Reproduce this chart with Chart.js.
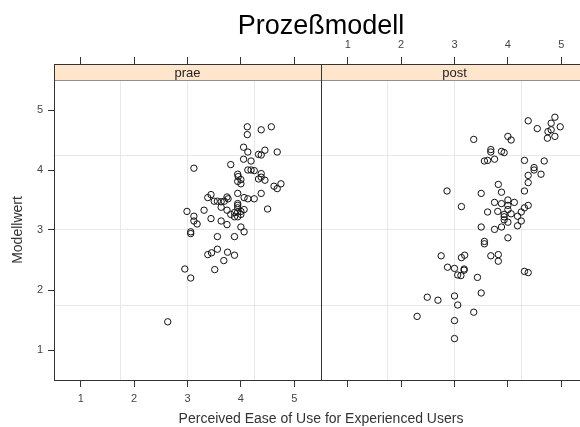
<!DOCTYPE html>
<html>
<head>
<meta charset="utf-8">
<title>Prozeßmodell</title>
<script src="https://cdn.jsdelivr.net/npm/chart.js@4.4.1/dist/chart.umd.min.js"></script>
<style>
  html, body { margin: 0; padding: 0; background: #fff; overflow: hidden; }
  #wrap { position: relative; width: 580px; height: 427px; overflow: hidden; }
  #wrap canvas { position: absolute; left: 0; top: 0; }
</style>
</head>
<body>
<div id="wrap">
  <canvas id="praeChart" width="580" height="427"></canvas>
  <canvas id="postChart" width="600" height="427"></canvas>
</div>
<script>
// Prozeßmodell - two lattice-style panels (prae / post)

const chartTitle = 'Prozeßmodell';
const xTitle = 'Perceived Ease of Use for Experienced Users';
const yTitle = 'Modellwert';
const panelNames = ['prae', 'post'];
const tickValues = [1, 2, 3, 4, 5];
const refLines = [1.75, 3, 4.25];

const praeX = [4.12, 4.12, 4.38, 4.57, 4.05, 4.13, 4.33, 4.38, 4.45, 4.68,
               4.05, 4.19, 3.12, 3.81, 4.13, 4.19, 4.25, 4.38, 3.94, 3.95,
               4.00, 3.94, 4.00, 4.33, 4.38, 4.45, 4.62, 4.68, 4.75, 3.94,
               4.38, 3.44, 3.38, 3.50, 3.56, 3.63, 3.69, 3.74, 3.76, 4.06,
               4.13, 4.25, 3.94, 3.94, 3.94, 3.63, 3.31, 2.99, 3.74, 3.88,
               3.94, 4.06, 4.00, 4.50, 3.81, 3.88, 3.12, 3.44, 3.63, 3.94,
               4.00, 3.12, 3.18, 3.74, 4.00, 4.06, 3.06, 3.06, 3.56, 3.88,
               3.56, 3.38, 3.45, 3.75, 3.88, 3.68, 2.95, 3.51, 3.06, 2.63];
const praeY = [4.72, 4.59, 4.67, 4.72, 4.38, 4.30, 4.26, 4.25, 4.33, 4.30,
               4.18, 4.15, 4.03, 4.09, 4.00, 4.00, 3.99, 3.94, 3.93, 3.89,
               3.84, 3.81, 3.77, 3.85, 3.88, 3.83, 3.73, 3.69, 3.77, 3.61,
               3.61, 3.59, 3.54, 3.48, 3.48, 3.47, 3.48, 3.55, 3.52, 3.54,
               3.52, 3.52, 3.44, 3.41, 3.37, 3.38, 3.33, 3.31, 3.33, 3.29,
               3.30, 3.34, 3.31, 3.35, 3.26, 3.22, 3.23, 3.19, 3.15, 3.22,
               3.26, 3.15, 3.10, 3.09, 3.05, 2.97, 2.97, 2.94, 2.89, 2.89,
               2.68, 2.59, 2.62, 2.63, 2.58, 2.49, 2.35, 2.34, 2.20, 1.47];

const postX = [4.88, 4.81, 4.98, 4.38, 4.55, 4.75, 4.81, 4.74, 4.88, 3.36,
               4.00, 4.06, 3.68, 3.68, 3.88, 3.93, 3.56, 3.62, 3.75, 4.31,
               4.68, 4.49, 4.49, 4.38, 4.62, 4.38, 3.82, 2.86, 3.50, 3.88,
               4.31, 3.13, 3.75, 3.88, 4.00, 4.12, 4.00, 3.62, 3.81, 4.00,
               3.93, 3.93, 4.06, 4.25, 4.31, 4.38, 4.18, 3.93, 4.00, 4.25,
               4.18, 3.50, 3.75, 3.88, 4.00, 3.56, 3.56, 2.75, 3.13, 3.19,
               3.68, 3.82, 3.82, 2.87, 3.00, 3.18, 3.18, 3.06, 3.12, 3.43,
               4.31, 4.38, 2.49, 2.69, 3.00, 3.50, 3.06, 3.36, 2.30, 3.00,
               3.00];
const postY = [4.88, 4.78, 4.72, 4.82, 4.69, 4.64, 4.67, 4.53, 4.56, 4.51,
               4.56, 4.50, 4.34, 4.30, 4.31, 4.29, 4.15, 4.16, 4.18, 4.16,
               4.15, 4.04, 4.00, 3.91, 3.93, 3.79, 3.76, 3.65, 3.61, 3.63,
               3.65, 3.39, 3.46, 3.44, 3.50, 3.46, 3.41, 3.30, 3.31, 3.34,
               3.26, 3.22, 3.27, 3.30, 3.37, 3.41, 3.23, 3.17, 3.13, 3.15,
               3.07, 3.05, 3.01, 3.05, 2.87, 2.81, 2.77, 2.57, 2.54, 2.58,
               2.57, 2.59, 2.48, 2.38, 2.36, 2.35, 2.33, 2.25, 2.24, 2.21,
               2.31, 2.29, 1.88, 1.83, 1.90, 1.95, 1.75, 1.63, 1.56, 1.49,
               1.19];

const FONT = '"Liberation Sans", Arial, sans-serif';
const STRIP_H = 16;          // height of the peach strip above each panel
const Y_MAX = 5.5 + STRIP_H / 60;   // panel is 60 px per unit, strip sits on top
const xAll = [...new Set([...tickValues, ...refLines])].sort((a, b) => a - b);

// Strip with panel name + box around panel
const stripPlugin = {
    id: 'strip',
    beforeDatasetsDraw(chart, args, opts) {
        const { ctx, chartArea: a } = chart;
        ctx.save();
        ctx.fillStyle = '#ffe5cc';
        ctx.fillRect(a.left, a.top, a.right - a.left, STRIP_H);
        ctx.lineWidth = 1;
        ctx.strokeStyle = '#8f8f8f';
        ctx.beginPath();
        ctx.moveTo(a.left, a.top + STRIP_H + 0.5);
        ctx.lineTo(a.right, a.top + STRIP_H + 0.5);
        ctx.stroke();
        ctx.strokeStyle = '#333';
        ctx.strokeRect(a.left + 0.5, a.top + 0.5, a.right - a.left, a.bottom - a.top);
        ctx.fillStyle = '#222';
        ctx.font = '13px ' + FONT;
        ctx.textAlign = 'center';
        ctx.textBaseline = 'middle';
        ctx.fillText(opts.label, (a.left + a.right) / 2, a.top + STRIP_H / 2 + 1);
        ctx.restore();
    }
};

// Main title and shared axis titles
const titlesPlugin = {
    id: 'titles',
    afterDraw(chart) {
        const { ctx } = chart;
        ctx.save();
        ctx.textAlign = 'center';
        ctx.fillStyle = '#000';
        ctx.font = '27px ' + FONT;
        ctx.textBaseline = 'alphabetic';
        ctx.fillText(chartTitle, 321, 34);
        ctx.fillStyle = '#333';
        ctx.font = '14px ' + FONT;
        ctx.fillText(xTitle, 321, 423);
        ctx.textBaseline = 'middle';
        ctx.translate(18, 230);
        ctx.rotate(-Math.PI / 2);
        ctx.fillText(yTitle, 0, 0);
        ctx.restore();
    }
};

function xScale(position, showLabels, showGrid) {
    return {
        type: 'linear',
        position: position,
        min: 0.5,
        max: 5.5,
        afterBuildTicks: s => { s.ticks = xAll.map(v => ({ value: v })); },
        afterFit: s => { s.height = position === 'top' ? 64 : 47; },
        border: { display: false },
        grid: {
            drawOnChartArea: showGrid,
            color: c => refLines.includes(c.tick.value) ? '#e8e8e8' : 'rgba(0,0,0,0)',
            tickColor: c => tickValues.includes(c.tick.value) ? '#333' : 'rgba(0,0,0,0)',
            tickLength: 7
        },
        ticks: {
            display: showLabels,
            autoSkip: false,
            maxRotation: 0,
            padding: 5,
            color: '#444',
            font: { family: FONT, size: 11 },
            callback: v => tickValues.includes(v) ? String(v) : ''
        }
    };
}

function yScale(showLabels) {
    return {
        type: 'linear',
        position: 'left',
        min: 0.5,
        max: Y_MAX,
        afterBuildTicks: s => { s.ticks = xAll.map(v => ({ value: v })); },
        afterFit: s => { s.width = showLabels ? 54 : 321; },
        border: { display: false },
        grid: {
            drawTicks: showLabels,
            color: c => refLines.includes(c.tick.value) ? '#e8e8e8' : 'rgba(0,0,0,0)',
            tickColor: c => tickValues.includes(c.tick.value) ? '#333' : 'rgba(0,0,0,0)',
            tickLength: 6
        },
        ticks: {
            display: showLabels,
            autoSkip: false,
            padding: 5,
            color: '#444',
            font: { family: FONT, size: 11 },
            callback: v => tickValues.includes(v) ? String(v) : ''
        }
    };
}

function makePanel(canvasId, xs, ys, name, isLeft) {
    const ctx = document.getElementById(canvasId).getContext('2d');
    return new Chart(ctx, {
        type: 'scatter',
        data: {
            datasets: [{
                label: name,
                data: xs.map((x, i) => ({ x: x, y: ys[i] })),
                pointRadius: 3.2,
                pointBorderWidth: 1,
                pointBorderColor: '#111',
                pointBackgroundColor: 'rgba(0,0,0,0)',
                pointHoverRadius: 3.2
            }]
        },
        options: {
            responsive: false,
            animation: false,
            devicePixelRatio: 1,
            events: [],
            layout: { padding: { left: 0, top: 0, bottom: 0, right: isLeft ? 259 : 12 } },
            scales: {
                x: xScale('bottom', isLeft, true),
                xt: xScale('top', !isLeft, false),
                y: yScale(isLeft)
            },
            plugins: {
                legend: { display: false },
                tooltip: { enabled: false },
                strip: { label: name }
            }
        },
        plugins: isLeft ? [stripPlugin, titlesPlugin] : [stripPlugin]
    });
}

makePanel('praeChart', praeX, praeY, panelNames[0], true);
makePanel('postChart', postX, postY, panelNames[1], false);
</script>
</body>
</html>
